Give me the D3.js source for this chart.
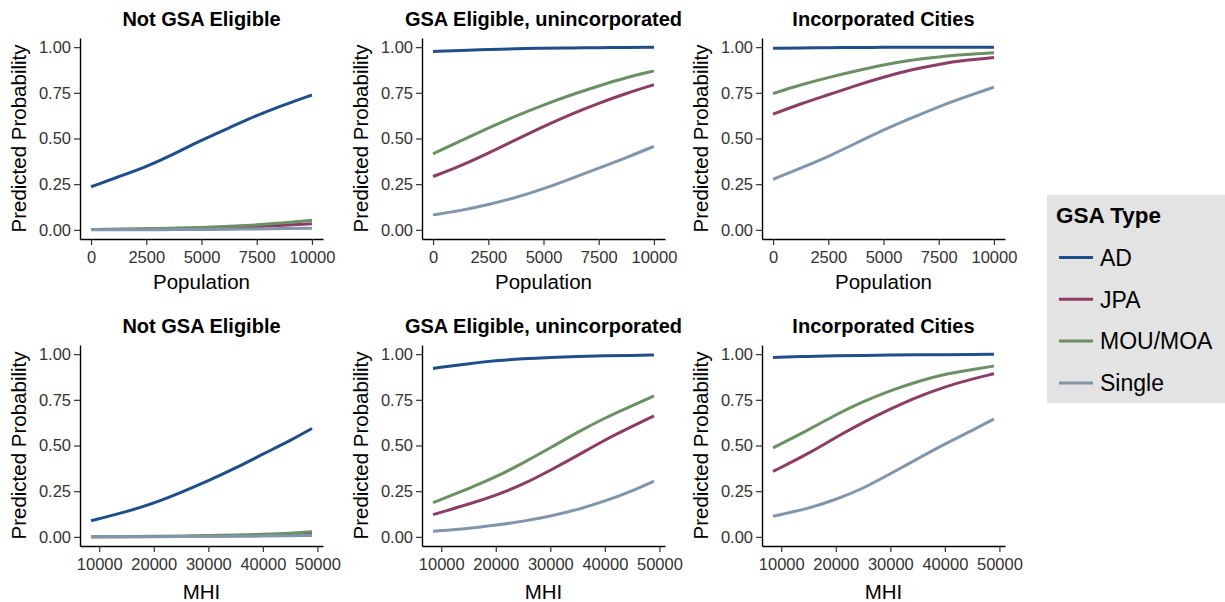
<!DOCTYPE html>
<html>
<head>
<meta charset="utf-8">
<script src="https://cdn.jsdelivr.net/npm/d3@7"></script>
<style>
  body { margin: 0; background: #fff; }
  text { font-family: "Liberation Sans", Arial, Helvetica, sans-serif; }
</style>
</head>
<body>
<svg id="chart" width="1225" height="602"></svg>
<script>
// GSA types, in legend order
var gsaTypes = ["AD", "JPA", "MOU/MOA", "Single"];
var gsaColors = ["#1f4e8a", "#8c3d65", "#6b9063", "#8196ab"];

var panelTitles = ["Not GSA Eligible", "GSA Eligible, unincorporated", "Incorporated Cities"];

// x values for the predicted curves
var popValues = [0, 1250, 2500, 3750, 5000, 6250, 7500, 8750, 10000];
var mhiValues = [8500, 15000, 20000, 25000, 30000, 35000, 40000, 45000, 49000];

var popTicks = [0, 2500, 5000, 7500, 10000];
var mhiTicks = [10000, 20000, 30000, 40000, 50000];
var probTicks = [0, 0.25, 0.5, 0.75, 1];

// predicted probabilities, one row per GSA type (AD, JPA, MOU/MOA, Single)
var popNotEligible = [
  [0.236, 0.291, 0.345, 0.415, 0.491, 0.558, 0.627, 0.685, 0.738],
  [0.002, 0.003, 0.004, 0.006, 0.009, 0.013, 0.018, 0.025, 0.033],
  [0.002, 0.004, 0.006, 0.009, 0.013, 0.019, 0.027, 0.038, 0.052],
  [0.0005, 0.0007, 0.001, 0.0015, 0.002, 0.003, 0.005, 0.007, 0.009]
];
var popUnincorporated = [
  [0.976, 0.982, 0.987, 0.991, 0.994, 0.996, 0.997, 0.998, 0.999],
  [0.292, 0.350, 0.420, 0.493, 0.566, 0.633, 0.693, 0.748, 0.794],
  [0.416, 0.487, 0.557, 0.624, 0.684, 0.739, 0.788, 0.834, 0.870],
  [0.082, 0.105, 0.138, 0.176, 0.224, 0.280, 0.338, 0.395, 0.457]
];
var popCities = [
  [0.994, 0.996, 0.997, 0.998, 0.999, 0.999, 0.9995, 0.9997, 0.9998],
  [0.633, 0.690, 0.739, 0.790, 0.836, 0.876, 0.907, 0.929, 0.943],
  [0.746, 0.794, 0.834, 0.870, 0.903, 0.929, 0.947, 0.960, 0.969],
  [0.277, 0.338, 0.401, 0.474, 0.547, 0.611, 0.675, 0.730, 0.781]
];
var mhiNotEligible = [
  [0.088, 0.137, 0.184, 0.243, 0.307, 0.376, 0.453, 0.526, 0.593],
  [0.0005, 0.001, 0.0015, 0.0025, 0.004, 0.0055, 0.008, 0.011, 0.015],
  [0.001, 0.002, 0.003, 0.005, 0.007, 0.010, 0.014, 0.020, 0.028],
  [0.0002, 0.0005, 0.0008, 0.0013, 0.002, 0.003, 0.004, 0.006, 0.008]
];
var mhiUnincorporated = [
  [0.922, 0.948, 0.964, 0.975, 0.982, 0.987, 0.991, 0.993, 0.995],
  [0.122, 0.178, 0.227, 0.287, 0.364, 0.445, 0.531, 0.604, 0.662],
  [0.187, 0.264, 0.327, 0.404, 0.487, 0.573, 0.651, 0.718, 0.771],
  [0.031, 0.045, 0.064, 0.085, 0.113, 0.149, 0.195, 0.251, 0.305]
];
var mhiCities = [
  [0.982, 0.988, 0.991, 0.993, 0.995, 0.996, 0.997, 0.998, 0.999],
  [0.358, 0.455, 0.545, 0.627, 0.700, 0.767, 0.822, 0.864, 0.893],
  [0.487, 0.585, 0.669, 0.740, 0.800, 0.851, 0.891, 0.915, 0.935],
  [0.113, 0.155, 0.204, 0.264, 0.345, 0.427, 0.509, 0.582, 0.645]
];

var rows = [
  { xs: popValues, ticks: popTicks, label: "Population", panels: [popNotEligible, popUnincorporated, popCities] },
  { xs: mhiValues, ticks: mhiTicks, label: "MHI", panels: [mhiNotEligible, mhiUnincorporated, mhiCities] }
];

var svg = d3.select("#chart");
var colLeft = [80, 422, 762];
var rowTop = [38, 345];
var pw = 243, ph = 201;
var tickColor = "#333";

// ggplot style 5% expansion
function expand(ext) {
  var pad = (ext[1] - ext[0]) * 0.05;
  return [ext[0] - pad, ext[1] + pad];
}

rows.forEach(function(row, r) {
  row.panels.forEach(function(panel, c) {
    var left = colLeft[c], top = rowTop[r];
    var x = d3.scaleLinear().domain(expand(d3.extent(row.xs))).range([left, left + pw]);
    var y = d3.scaleLinear().domain(expand([0, 1])).range([top + ph, top]);

    var g = svg.append("g");

    // title
    g.append("text")
      .attr("x", left + pw / 2)
      .attr("y", top - 12)
      .attr("text-anchor", "middle")
      .attr("font-size", "20px")
      .attr("font-weight", "bold")
      .attr("fill", "#000")
      .text(panelTitles[c]);

    // axes
    var yAxis = g.append("g")
      .attr("transform", "translate(" + left + ",0)")
      .call(d3.axisLeft(y).tickValues(probTicks).tickFormat(d3.format(".2f"))
        .tickSize(6).tickPadding(3).tickSizeOuter(0));
    var xAxis = g.append("g")
      .attr("transform", "translate(0," + (top + ph) + ")")
      .call(d3.axisBottom(x).tickValues(row.ticks).tickFormat(d3.format("d"))
        .tickSize(6).tickPadding(6).tickSizeOuter(0));

    [yAxis, xAxis].forEach(function(a) {
      a.select(".domain").attr("stroke", "#000").attr("stroke-width", 1.4);
      a.selectAll(".tick line").attr("stroke", tickColor).attr("stroke-width", 1.2);
      a.selectAll(".tick text")
        .attr("fill", tickColor)
        .attr("font-size", "16.5px")
        .attr("font-family", null);
    });

    // axis titles
    g.append("text")
      .attr("x", left + pw / 2)
      .attr("y", top + ph + (r === 0 ? 50 : 53))
      .attr("text-anchor", "middle")
      .attr("font-size", "20.5px")
      .attr("fill", "#000")
      .text(row.label);
    g.append("text")
      .attr("transform", "translate(" + (left - 54) + "," + (top + ph / 2) + ") rotate(-90)")
      .attr("text-anchor", "middle")
      .attr("font-size", "20.5px")
      .attr("fill", "#000")
      .text("Predicted Probability");

    // curves
    var line = d3.line()
      .x(function(d, i) { return x(row.xs[i]); })
      .y(function(d) { return y(d); })
      .curve(d3.curveBasis);

    g.selectAll("path.curve")
      .data(panel)
      .join("path")
      .attr("class", "curve")
      .attr("d", line)
      .attr("fill", "none")
      .attr("stroke", function(d, i) { return gsaColors[i]; })
      .attr("stroke-width", 3)
      .attr("stroke-linecap", "butt");
  });
});

// legend
var legend = svg.append("g");
legend.append("rect")
  .attr("x", 1047).attr("y", 195)
  .attr("width", 178).attr("height", 208)
  .attr("fill", "#e3e3e3");
legend.append("text")
  .attr("x", 1056).attr("y", 223)
  .attr("font-size", "22.5px")
  .attr("font-weight", "bold")
  .attr("fill", "#000")
  .text("GSA Type");

var items = legend.selectAll("g.item")
  .data(gsaTypes)
  .join("g")
  .attr("class", "item")
  .attr("transform", function(d, i) { return "translate(1059," + (257.5 + i * 41.8) + ")"; });
items.append("line")
  .attr("x1", 0).attr("x2", 34)
  .attr("stroke", function(d, i) { return gsaColors[i]; })
  .attr("stroke-width", 3);
items.append("text")
  .attr("x", 41)
  .attr("dy", "0.36em")
  .attr("font-size", "23px")
  .attr("fill", "#000")
  .text(function(d) { return d; });
</script>
</body>
</html>
